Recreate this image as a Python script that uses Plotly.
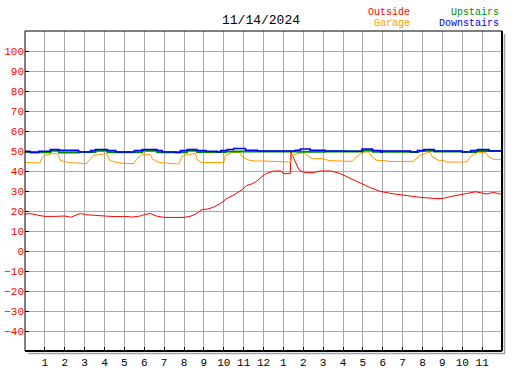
import plotly.graph_objects as go

# ---- data ----
hours_out = [0, 0.3, 0.7, 1.0, 1.5, 2.0, 2.3, 2.5, 2.8, 3.0, 3.5, 4.0, 4.5, 5.0, 5.4, 5.8, 6.0, 6.3, 6.6, 7.0,
             7.5, 8.0, 8.3, 8.6, 8.9, 9.2, 9.5, 9.8, 10.15, 10.5, 10.9, 11.16, 11.4, 11.6, 11.9, 12.1, 12.5, 12.9,
             13.0, 13.35, 13.38, 13.5, 13.68, 13.8, 14.1, 14.5, 14.85, 15.4, 15.86, 16.36, 16.87, 17.37, 17.88,
             18.46, 19.13, 19.89, 20.73, 21.0, 21.4, 21.8, 22.24, 22.66, 23.0, 23.2, 23.58, 24]
outside = [18.5, 18.7, 17.8, 17.3, 17.3, 17.5, 16.9, 17.6, 18.8, 18.2, 17.7, 17.5, 17.2, 17.3, 17.0, 17.5, 18.2,
           18.8, 17.5, 16.8, 16.8, 16.8, 17.3, 18.5, 20.7, 21.0, 22.0, 23.5, 26.2, 28.0, 30.5, 32.8, 33.5, 34.5,
           37.0, 38.5, 40.0, 40.0, 38.7, 38.7, 49.5, 47.0, 42.8, 40.3, 39.2, 39.2, 40.0, 40.0, 38.7, 36.2, 34.0,
           31.7, 29.8, 28.7, 27.9, 26.8, 26.2, 26.2, 27.2, 28.0, 29.0, 29.6, 29.0, 28.5, 29.3, 28.3]

hours_gar = [0, 0.75, 0.86, 1.0, 1.36, 1.6, 1.7, 1.78, 2.2, 2.8, 3.1, 3.2, 3.46, 4.05, 4.15, 4.25, 4.6, 5.0, 5.47,
             5.64, 5.9, 6.3, 6.4, 6.65, 7.0, 7.74, 7.9, 8.16, 8.58, 8.65, 8.9, 10.0, 10.08, 10.4, 10.8, 10.93,
             11.3, 11.6, 12.0, 13.36, 13.44, 13.78, 14.03, 14.2, 14.45, 14.95, 15.3, 16.46, 16.72, 17.05, 17.3,
             17.47, 17.7, 18.1, 18.3, 19.57, 19.65, 19.9, 20.24, 20.4, 20.5, 20.83, 21.1, 21.16, 22.25, 22.42,
             22.76, 23.18, 23.35, 23.6, 24]
garage = [44.2, 44.0, 46.5, 47.8, 48.7, 48.7, 47.5, 45.3, 44.2, 43.7, 43.7, 45.0, 47.8, 48.7, 48.2, 45.3, 44.3,
          43.8, 43.7, 46.2, 48.2, 48.2, 46.2, 44.5, 44.0, 43.5, 47.3, 48.2, 48.7, 45.8, 44.2, 44.2, 47.8, 49.2,
          49.2, 47.0, 45.3, 45.0, 45.0, 44.5, 47.8, 48.7, 49.2, 47.8, 46.2, 46.2, 45.2, 44.8, 47.5, 49.5, 49.5,
          47.0, 45.3, 45.3, 44.8, 44.8, 46.0, 47.8, 49.2, 49.2, 47.0, 45.3, 45.3, 44.5, 44.5, 47.3, 49.2, 49.2,
          47.0, 45.7, 45.7]

hours_up = [0, 0.3, 1.28, 1.7, 2.7, 3.55, 4.15, 4.6, 5.9, 6.65, 8.16, 8.65, 10.1, 12.0, 13.7, 15.1, 16.1, 17.0,
            17.5, 19.4, 19.8, 20.1, 20.6, 22.0, 22.7, 24]
upstairs = [49.5, 49.4, 50.3, 49.3, 49.5, 50.3, 49.4, 49.4, 50.3, 49.4, 50.3, 49.5, 49.8, 49.8, 49.6, 49.8, 49.7,
            50.4, 49.6, 49.5, 50.0, 50.3, 49.7, 49.5, 50.0, 50.0]

hours_down = [0, 0.25, 0.69, 1.28, 1.7, 2.7, 3.3, 3.55, 4.15, 4.57, 5.5, 5.9, 6.65, 6.9, 7.57, 7.82, 8.16, 8.65,
              9.1, 9.67, 9.84, 10.17, 10.5, 11.1, 11.7, 11.93, 13.6, 13.85, 14.35, 15.1, 16.1, 16.95, 17.47,
              17.9, 17.97, 19.4, 19.74, 20.07, 20.58, 22.0, 22.42, 22.76, 23.35, 24]
downstairs = [49.9, 49.3, 49.9, 50.7, 50.4, 49.5, 50.2, 50.7, 50.2, 49.5, 50.2, 50.7, 50.2, 49.5, 49.2, 50.2,
              50.7, 50.2, 49.9, 49.5, 50.2, 50.7, 51.2, 50.4, 50.0, 50.0, 50.4, 51.0, 50.4, 50.0, 49.85, 51.0,
              50.2, 49.5, 50.0, 49.5, 50.2, 50.7, 50.0, 49.5, 50.2, 50.7, 50.0, 50.0]

x_tickvals = list(range(1, 24))
x_ticktext = ["1", "2", "3", "4", "5", "6", "7", "8", "9", "10", "11", "12",
              "1", "2", "3", "4", "5", "6", "7", "8", "9", "10", "11"]
y_tickvals = [100, 90, 80, 70, 60, 50, 40, 30, 20, 10, 0, -10, -20, -30, -40]
title_text = "11/14/2024"

RED = "#ff0000"
ORANGE = "#ff9900"
GREEN = "#008c00"
BLUE = "#0000ff"
MONO = "Liberation Mono"

fig = go.Figure()
fig.add_trace(go.Scatter(x=hours_out, y=outside, mode="lines", line=dict(color=RED, width=1), name="Outside"))
fig.add_trace(go.Scatter(x=hours_gar, y=garage, mode="lines", line=dict(color=ORANGE, width=1), name="Garage"))
fig.add_trace(go.Scatter(x=hours_up, y=upstairs, mode="lines", line=dict(color=GREEN, width=2, shape="hv"),
                         name="Upstairs"))
fig.add_trace(go.Scatter(x=hours_down, y=downstairs, mode="lines", line=dict(color=BLUE, width=1.5, shape="hv"),
                         name="Downstairs"))

L, R, T, B = 25, 25, 31, 19
W, H = 527, 370
pw, ph = W - L - R, H - T - B


def px(xp):
    return (xp - L) / pw


def py(yp):
    return (H - B - yp) / ph


fig.update_layout(
    width=W, height=H,
    margin=dict(l=L, r=R, t=T, b=B, pad=0, autoexpand=False),
    paper_bgcolor="white", plot_bgcolor="white",
    showlegend=False,
    xaxis=dict(range=[0, 24], tickvals=x_tickvals, ticktext=x_ticktext, showgrid=True,
               gridcolor="#a8a8a8", gridwidth=1, ticks="inside", ticklen=4, tickcolor="black",
               tickfont=dict(family=MONO, size=11, color="black"), showline=False, zeroline=False,
               fixedrange=True, automargin=False, ticklabelstandoff=3),
    yaxis=dict(range=[-50, 110], tickvals=y_tickvals, showgrid=True, gridcolor="#a8a8a8", gridwidth=1,
               ticks="inside", ticklen=4, tickcolor="black",
               tickfont=dict(family=MONO, size=11, color=RED), showline=False, zeroline=False,
               fixedrange=True, automargin=False),
    shapes=[
        dict(type="line", xref="paper", yref="paper", x0=0, x1=1, y0=1, y1=1, line=dict(color="black", width=1)),
        dict(type="line", xref="paper", yref="paper", x0=0, x1=0, y0=0, y1=1, line=dict(color="black", width=1)),
        dict(type="line", xref="paper", yref="paper", x0=1, x1=1, y0=0, y1=1, line=dict(color="black", width=2)),
        dict(type="line", xref="paper", yref="paper", x0=0, x1=1, y0=0, y1=0, line=dict(color="black", width=2)),
        dict(type="line", xref="paper", yref="paper", x0=1 + 2.5 / pw, x1=1 + 2.5 / pw, y0=-3 / ph, y1=1 - 3 / ph,
             line=dict(color="#a0a0a0", width=1.5)),
        dict(type="line", xref="paper", yref="paper", x0=3 / pw, x1=1 + 3 / pw, y0=-2.5 / ph, y1=-2.5 / ph,
             line=dict(color="#a0a0a0", width=1.5)),
    ],
    annotations=[
        dict(text=title_text, xref="paper", yref="paper", x=px(261), y=py(20.5), xanchor="center",
             yanchor="middle", showarrow=False, font=dict(family=MONO, size=13, color="black")),
        dict(text="Outside", xref="paper", yref="paper", x=px(411.5), y=py(12), xanchor="right",
             yanchor="middle", showarrow=False, font=dict(family=MONO, size=10, color=RED)),
        dict(text="Garage", xref="paper", yref="paper", x=px(411.5), y=py(24), xanchor="right",
             yanchor="middle", showarrow=False, font=dict(family=MONO, size=10, color=ORANGE)),
        dict(text="Upstairs", xref="paper", yref="paper", x=px(500.5), y=py(12), xanchor="right",
             yanchor="middle", showarrow=False, font=dict(family=MONO, size=10, color=GREEN)),
        dict(text="Downstairs", xref="paper", yref="paper", x=px(500.5), y=py(24), xanchor="right",
             yanchor="middle", showarrow=False, font=dict(family=MONO, size=10, color=BLUE)),
    ],
)

fig.write_html("out.html", config={"displayModeBar": False, "staticPlot": True},
               post_script="document.body.style.margin='0px';")
